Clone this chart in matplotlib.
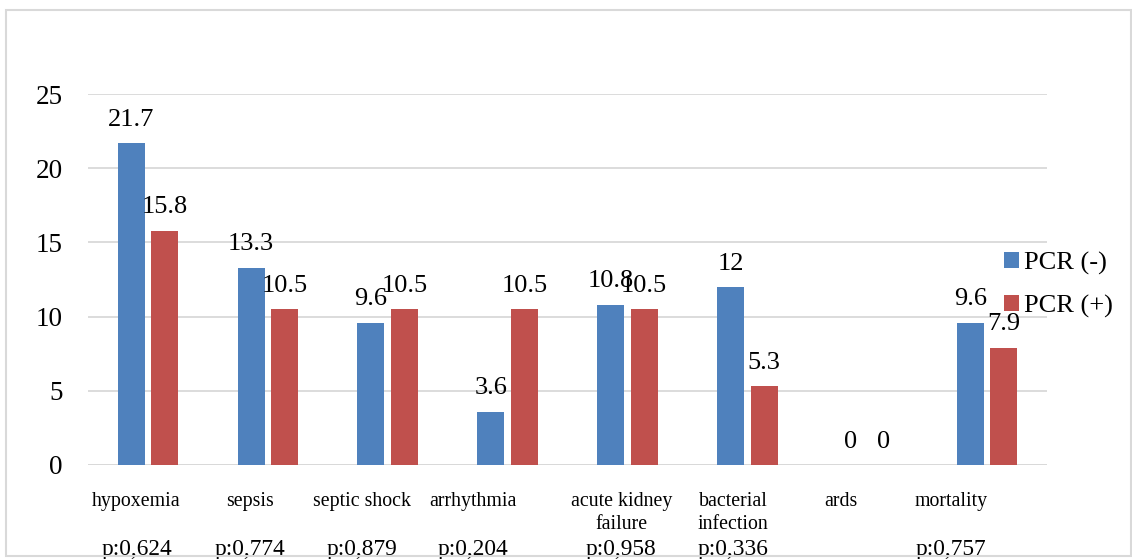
import numpy as np
import matplotlib
matplotlib.use("Agg")
import matplotlib.pyplot as plt
from matplotlib.patches import Rectangle

# Datos
categorias = ["hypoxemia", "sepsis", "septic shock", "arrhythmia",
              "acute kidney\nfailure", "bacterial\ninfection", "ards", "mortality"]
pcr_neg = [21.7, 13.3, 9.6, 3.6, 10.8, 12, 0, 9.6]
pcr_pos = [15.8, 10.5, 10.5, 10.5, 10.5, 5.3, 0, 7.9]
p_valores = ["p:0,624", "p:0,774", "p:0,879", "p:0,204", "p:0,958", "p:0,336", "", "p:0,757"]

# las etiquetas de abajo no estan centradas en el grupo (como en el original)
desplaz = [-0.095, -0.149, -0.218, -0.288, -0.050, -0.119, -0.219, -0.301]

plt.rcParams['font.family'] = ['Liberation Serif', 'DejaVu Serif']

azul = '#4F81BD'
rojo = '#C0504D'

fig = plt.figure(figsize=(11.32, 5.59), dpi=100)
ax = fig.add_axes([88/1132, 1 - 465/559, (1047 - 88)/1132, (465 - 94)/559])

x = np.arange(len(categorias))
ancho = 0.225
sep = 0.0275

b1 = ax.bar(x - ancho/2 - sep, pcr_neg, ancho, color=azul, label='PCR (-)', zorder=3)
b2 = ax.bar(x + ancho/2 + sep, pcr_pos, ancho, color=rojo, label='PCR (+)', zorder=3)

# Etiquetas de valores
for barras, vals in ((b1, pcr_neg), (b2, pcr_pos)):
    for b, v in zip(barras, vals):
        ax.annotate(f"{v:g}", (b.get_x() + b.get_width()/2, v),
                    xytext=(0, 12.5), textcoords='offset points',
                    ha='center', va='baseline', fontsize=19, zorder=4)

ax.set_xlim(-0.5, len(categorias) - 0.5)
ax.set_ylim(0, 25)
ax.set_yticks(np.arange(0, 26, 5))
ax.yaxis.grid(True, color='#d9d9d9', linewidth=1.3, zorder=0)
ax.set_axisbelow(True)
for s in ax.spines.values():
    s.set_visible(False)
ax.axhline(0, color='#d9d9d9', linewidth=1.3, zorder=1)
ax.tick_params(axis='both', length=0)
ax.tick_params(axis='y', labelsize=19.5, pad=18)
ax.set_xticks([])

# categorias y p valores
trans = ax.get_xaxis_transform()
for xi, d, c, p in zip(x, desplaz, categorias, p_valores):
    ax.text(xi + d, -0.072, c, transform=trans, ha='center', va='top',
            fontsize=14.3, linespacing=1.3)
    ax.text(xi + d, -0.2426, p, transform=trans, ha='center', va='baseline',
            fontsize=16.8)

ax.legend(loc='center left', bbox_to_anchor=(1004/1132, 1 - 285/559), frameon=False,
          fontsize=19, handlelength=0.55, handleheight=0.55, handletextpad=0.2,
          labelspacing=0.75, borderaxespad=0, borderpad=0,
          bbox_transform=fig.transFigure)

# Borde
fig.patches.append(Rectangle((6/1132, 1 - 556/559), (1131 - 6)/1132, (556 - 10)/559,
                             transform=fig.transFigure, fill=False,
                             edgecolor='#d9d9d9', linewidth=1.5))

fig.savefig('out.png', dpi=100)
